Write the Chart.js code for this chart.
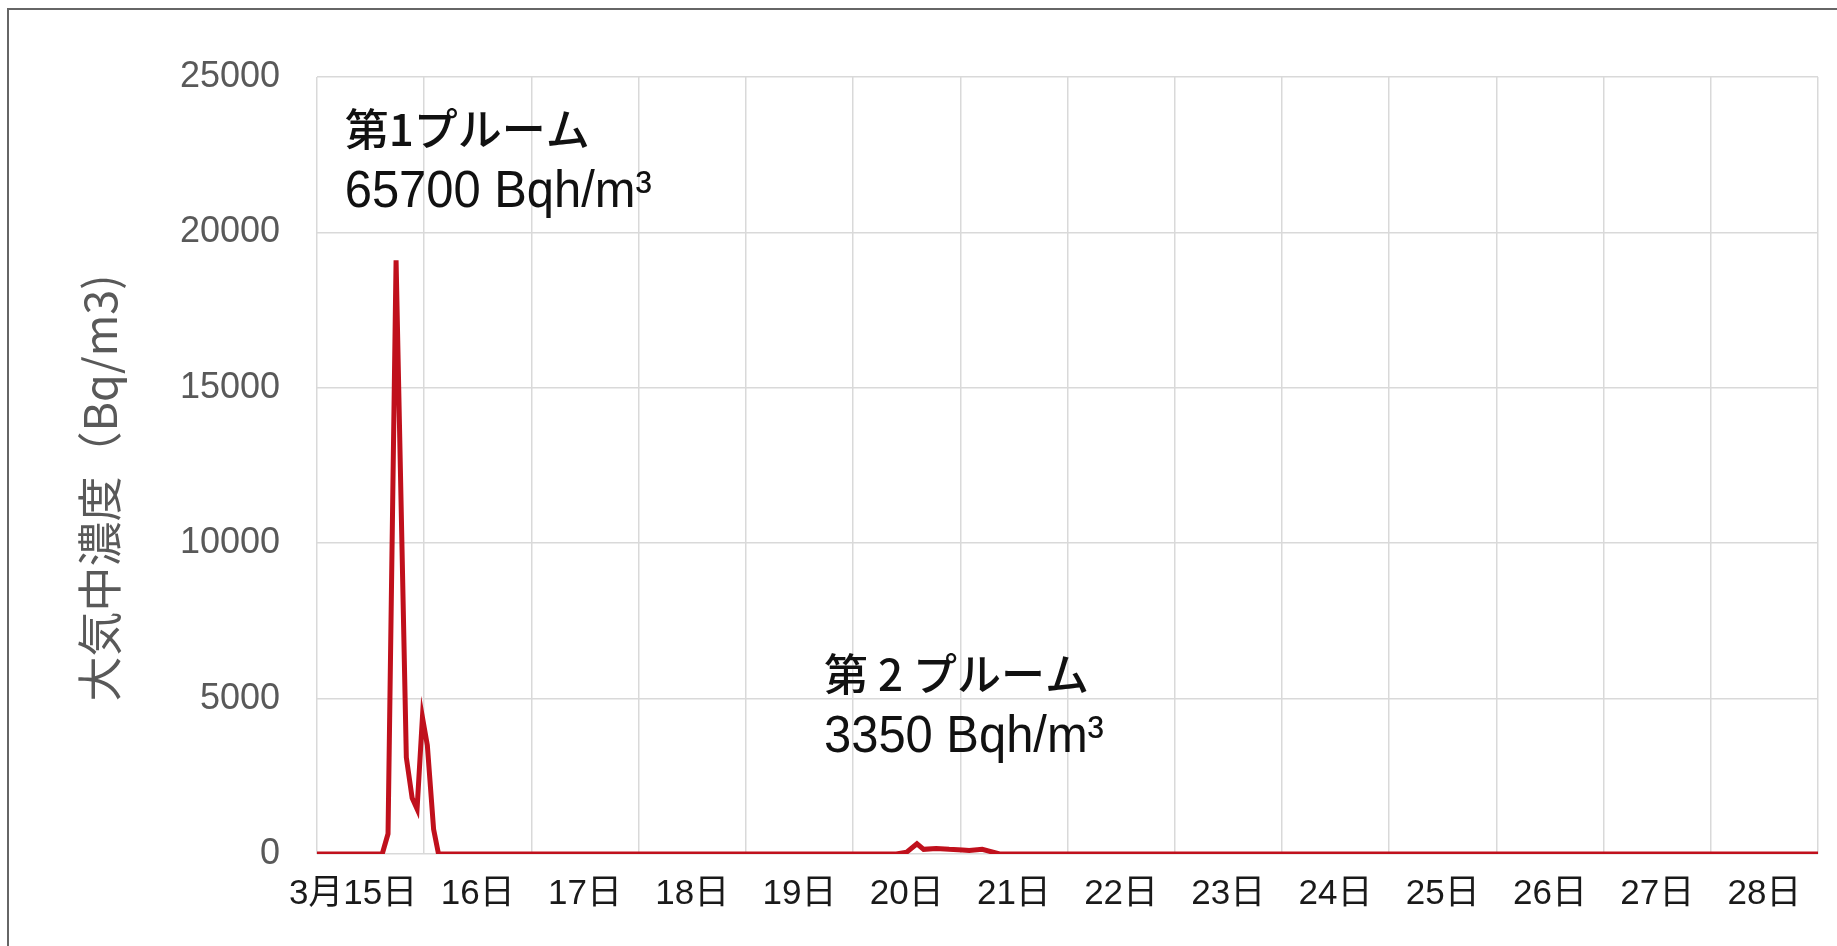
<!DOCTYPE html>
<html>
<head>
<meta charset="utf-8">
<script src="https://cdn.jsdelivr.net/npm/chart.js@4.4.1/dist/chart.umd.min.js"></script>
<style>
  body { margin: 0; background: #fff; }
  #wrap { position: relative; width: 1837px; height: 946px; overflow: hidden; }
  #frame { position: absolute; left: 7px; top: 8px; right: -10px; bottom: -10px;
           border-left: 2px solid #666; border-top: 2px solid #666; pointer-events: none; }
</style>
</head>
<body>
<div id="wrap">
  <canvas id="graph" width="1837" height="946"></canvas>
  <div id="frame"></div>
</div>
<script>
// hours from 3/15 0:00
var hours = [0, 14.6, 15.9, 17.7, 20.0, 21.3, 22.4, 23.6, 24.7, 26.1, 27.2,
             129.7, 132.0, 134.3, 135.8, 138.6, 141.5, 144.5, 146.0, 148.9, 152.8, 336];
var conc  = [0, 0, 650, 19100, 3100, 1800, 1450, 4400, 3500, 800, 0,
             0, 60, 330, 150, 180, 150, 130, 110, 150, 0, 0];

var dayLabels = ['3月15日\u2003', '16日', '17日', '18日', '19日', '20日', '21日',
                 '22日', '23日', '24日', '25日', '26日', '27日', '28日'];
var yTicks = [0, 5000, 10000, 15000, 20000, 25000];

var plumeNames  = ['第1プルーム', '第 2 プルーム'];
var plumeTotals = ['65700 Bqh/m³', '3350 Bqh/m³'];
var plumeAt     = [[6.2, 22780], [113.5, 5245]];   // hour, concentration

var notes = {
    id: 'notes',
    afterDatasetsDraw: function(chart) {
        var ctx = chart.ctx;
        var x = chart.scales.x, y = chart.scales.y;
        ctx.save();
        ctx.fillStyle = '#111';
        ctx.textAlign = 'left';
        ctx.textBaseline = 'alphabetic';
        for (var i = 0; i < plumeNames.length; i++) {
            var px = x.getPixelForValue(plumeAt[i][0]);
            var py = y.getPixelForValue(plumeAt[i][1]);
            ctx.font = '500 44px "Noto Sans CJK JP"';
            ctx.fillText(plumeNames[i], px, py);
            // condensed look like the original
            ctx.save();
            ctx.translate(px, py + 61);
            ctx.scale(0.94, 1);
            ctx.font = '52px "Liberation Sans"';
            ctx.fillText(plumeTotals[i], 0, 0);
            ctx.restore();
        }
        ctx.restore();
    }
};

var chart = new Chart(document.getElementById('graph'), {
    type: 'line',
    data: {
        datasets: [{
            data: hours.map(function(h, i) { return {x: h, y: conc[i]}; }),
            borderColor: '#c0101c',
            borderWidth: 5,
            pointRadius: 0,
            tension: 0,
            fill: false
        }]
    },
    options: {
        responsive: false,
        animation: false,
        layout: { padding: { left: 60, top: 77, right: 11, bottom: 0 } },
        plugins: { legend: { display: false }, tooltip: { enabled: false } },
        scales: {
            x: {
                type: 'linear',
                min: 0,
                max: 336,
                afterBuildTicks: function(axis) {
                    var t = [];
                    for (var v = 0; v <= 336; v += 12) t.push({ value: v });
                    axis.ticks = t;
                },
                afterFit: function(axis) { axis.height = 92; },
                border: { display: false },
                grid: {
                    drawTicks: false,
                    lineWidth: 1.5,
                    color: function(c) { return c.tick && c.tick.value % 24 === 0 ? '#d9d9d9' : 'rgba(0,0,0,0)'; }
                },
                ticks: {
                    autoSkip: false,
                    maxRotation: 0,
                    padding: 19,
                    color: '#1a1a1a',
                    font: { family: '"Liberation Sans", "Noto Sans CJK JP"', size: 35 },
                    callback: function(v) { return v % 24 === 12 ? dayLabels[(v - 12) / 24] : ''; }
                }
            },
            y: {
                min: 0,
                max: 25000,
                afterBuildTicks: function(axis) {
                    axis.ticks = yTicks.map(function(v) { return { value: v }; });
                },
                afterFit: function(axis) { axis.width = 317 - 60; },
                border: { display: false },
                grid: { drawTicks: false, lineWidth: 1.5, color: '#d9d9d9' },
                ticks: {
                    padding: 37,
                    color: '#595959',
                    font: { family: '"Liberation Sans"', size: 36 },
                    callback: function(v) { return String(v); }
                },
                title: {
                    display: true,
                    text: '大気中濃度（Bq/m3)\u2003',
                    color: '#595959',
                    padding: { top: 13, bottom: 0 },
                    font: { family: '"Noto Sans CJK JP"', size: 45 }
                }
            }
        }
    },
    plugins: [notes]
});
</script>
</body>
</html>
